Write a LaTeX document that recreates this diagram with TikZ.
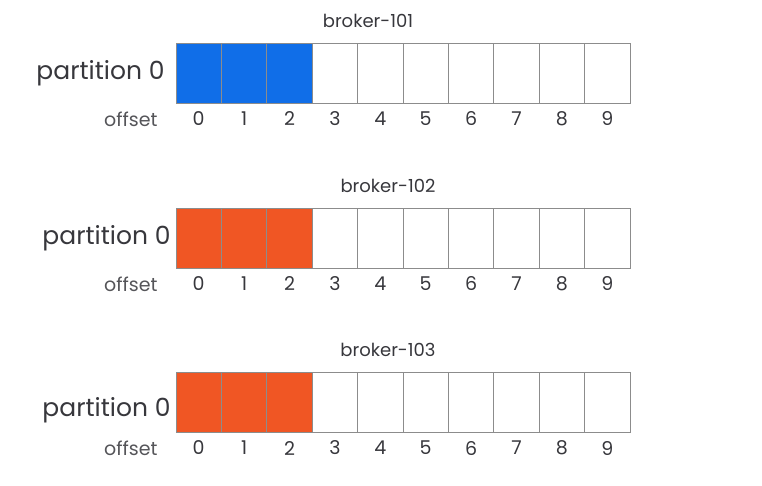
\documentclass[tikz,border=0pt]{standalone}
\usepackage{fontspec}
\setmainfont{Poppins}
\usepackage{xcolor}
\usetikzlibrary{positioning}
\definecolor{leaderblue}{RGB}{16,110,232}
\definecolor{followerred}{RGB}{240,86,36}
\definecolor{cellgray}{RGB}{140,140,140}
\definecolor{textgray}{RGB}{55,55,60}
\tikzstyle{cell} = [draw=cellgray, line width=0.9pt, fill=white,
rectangle, minimum width=45.4pt, minimum height=60pt, inner sep=0pt]
\tikzstyle{brokertitle} = [text=textgray, font=\fontsize{18}{20}\selectfont]
\tikzstyle{partlabel} = [text=textgray, font=\fontsize{25}{27}\selectfont, anchor=east]
\tikzstyle{offlabel} = [text=textgray!85, font=\fontsize{19}{21}\selectfont]
\tikzstyle{digit} = [text=textgray, font=\fontsize{19}{21}\selectfont]

\begin{document}
\begin{tikzpicture}[x=1pt, y=-1pt]
        \useasboundingbox (0,0) rectangle (762,485);
        % three brokers, one partition each
        \foreach \row/\ytop/\fillc/\name/\tx in {1/43/leaderblue/101/368, 2/208/followerred/102/388, 3/372/followerred/103/388} {
            \foreach \i in {0,...,9} {
                \pgfmathsetmacro{\cx}{176+22.7+45.4*\i}
                \ifnum\i<3
                    \node[cell, fill=\fillc] (c\row-\i) at (\cx,\ytop+30) {};
                \else
                    \node[cell] (c\row-\i) at (\cx,\ytop+30) {};
                \fi
                \node[digit] (o\row-\i) at (\cx,\ytop+76) {\i};
            }
            \node[brokertitle] (b\row) at (\tx,\ytop-22) {broker-\name};
            \node[offlabel, anchor=east] (off\row) at (161,\ytop+76) {offset};
        }
        \node[partlabel] (p1) at (168,73) {partition 0};
        \node[partlabel] (p2) at (174,238) {partition 0};
        \node[partlabel] (p3) at (174,410) {partition 0};
    \end{tikzpicture}
\end{document}
